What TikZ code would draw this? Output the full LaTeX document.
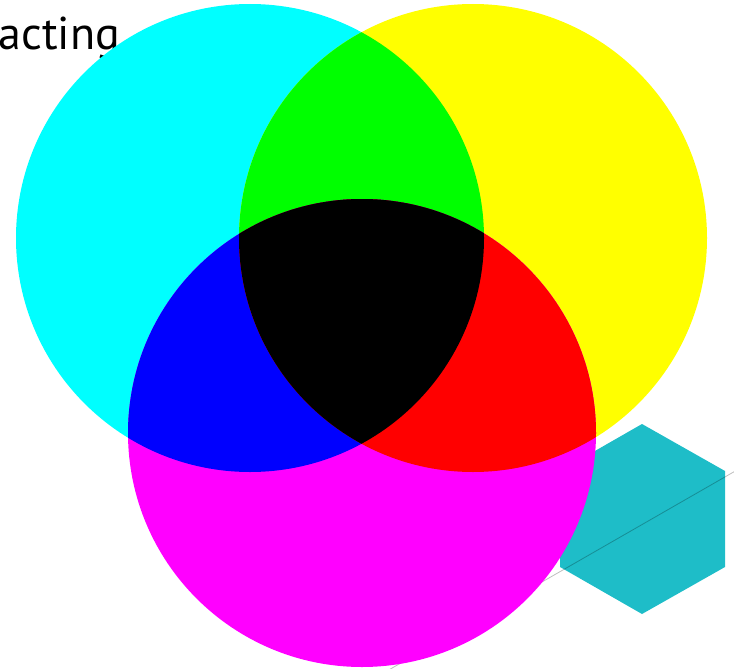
\documentclass[tikz,border=0pt]{standalone}
\usepackage{fontspec}
\setmainfont{PT Sans}
\usepackage{xcolor}
\definecolor{mixCyan}{RGB}{0,255,255}
\definecolor{mixYellow}{RGB}{255,255,0}
\definecolor{mixMagenta}{RGB}{255,0,255}
\definecolor{mixGreen}{RGB}{0,255,0}
\definecolor{mixBlue}{RGB}{0,0,255}
\definecolor{mixRed}{RGB}{255,0,0}
\definecolor{hexTeal}{RGB}{30,189,200}

\begin{document}
\begin{tikzpicture}[x=1pt,y=-1pt,disc/.style={radius=234}]
  \useasboundingbox (0,0) rectangle (734,669); \clip (0,0) rectangle (734,669);
  \coordinate (C) at (250,238); \coordinate (Y) at (473,238); \coordinate (M) at (362,433);
  \node[anchor=base west,inner sep=0pt,font=\fontsize{46}{52}\selectfont] (word) at (-1.5,50) {acting};
  % hexagon and the faint line behind the discs
  \coordinate (H1) at (642,424); \coordinate (H2) at (725,471); \coordinate (H3) at (725,567);
  \coordinate (H4) at (642,614); \coordinate (H5) at (560,567); \coordinate (H6) at (560,471);
  \fill[hexTeal] (H1) -- (H2) -- (H3) -- (H4) -- (H5) -- (H6) -- cycle;
  \coordinate (L1) at (373,679); \coordinate (L2) at (751,462);
  \draw[black,opacity=0.25,line width=0.8pt] (L1) -- (L2);
  % the three discs
  \fill[mixCyan] (C) circle[disc]; \fill[mixYellow] (Y) circle[disc]; \fill[mixMagenta] (M) circle[disc];
  \begin{scope} \clip (C) circle[disc]; \fill[mixGreen] (Y) circle[disc]; \fill[mixBlue] (M) circle[disc]; \end{scope}
  \begin{scope} \clip (Y) circle[disc]; \fill[mixRed] (M) circle[disc]; \end{scope}
  \begin{scope} \clip (C) circle[disc]; \clip (Y) circle[disc]; \fill[black] (M) circle[disc]; \end{scope}
\end{tikzpicture}
\end{document}
